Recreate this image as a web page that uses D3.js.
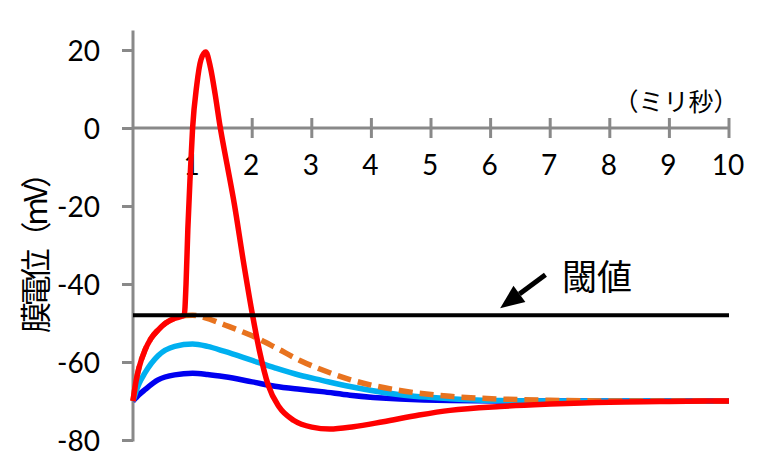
<!DOCTYPE html>
<html>
<head>
<meta charset="utf-8">
<script src="https://cdn.jsdelivr.net/npm/d3@7"></script>
<style>
  html, body { margin: 0; padding: 0; background: #fff; }
  svg { display: block; }
</style>
</head>
<body>
<svg id="chart" width="767" height="473"></svg>
<script>
// ---- data ----
const xTicks = [1, 2, 3, 4, 5, 6, 7, 8, 9, 10];
const yTicks = [-80, -60, -40, -20, 0, 20];
const xLabel = "（ミリ秒）";
const yLabel = "膜電位（mV）";
const thresholdLabel = "閾値";
const threshold = -48;

const blueT = [0, 0.05, 0.1, 0.2, 0.42, 0.7, 1.0, 1.25, 1.54, 2.0, 2.38, 2.8, 3.17, 3.64, 4.48, 5.32, 6.5, 8, 10];
const blueV = [-70, -69.2, -68.4, -67.1, -64.6, -63.3, -62.9, -63.2, -63.8, -65.1, -66.2, -67.0, -67.6, -68.5, -69.5, -69.9, -70, -70, -70];

const lightBlueT = [0, 0.05, 0.1, 0.2, 0.42, 0.7, 1.0, 1.25, 1.54, 2.0, 2.38, 2.8, 3.17, 3.64, 4.48, 5.32, 6.16, 7, 10];
const lightBlueV = [-70, -67.6, -65.6, -62.8, -58.4, -56.0, -55.4, -56.0, -57.3, -59.6, -61.5, -63.4, -64.7, -66.3, -68.4, -69.4, -69.9, -70, -70];

const orangeT = [0, 0.05, 0.1, 0.2, 0.3, 0.42, 0.55, 0.7, 0.88, 1.0, 1.2, 1.54, 2.0, 2.38, 2.8, 3.17, 3.64, 4.48, 5.32, 6.16, 7, 8, 10];
const orangeV = [-70, -65, -61.5, -57, -54, -51.8, -50, -48.8, -48.1, -48, -48.6, -50.5, -53.3, -56.2, -59.6, -62.0, -64.5, -67.3, -68.8, -69.5, -69.8, -70, -70];

const redT = [0, 0.05, 0.1, 0.2, 0.3, 0.42, 0.55, 0.7, 0.86, 0.89, 0.92, 0.96, 1.0, 1.07, 1.14, 1.22, 1.3, 1.38, 1.46, 1.58, 1.7, 1.85, 2.0, 2.12, 2.27, 2.45, 2.7, 3.0, 3.3, 3.7, 4.2, 4.8, 5.32, 6.16, 7, 8, 9, 10];
const redV = [-70, -65, -61.5, -57, -54, -51.8, -50, -48.8, -48, -40, -26, -12, 0, 11, 17.5, 19.5, 15.5, 8.5, 0.5, -9.5, -19.5, -34, -47.5, -57, -66, -71.5, -75, -76.7, -77.2, -76.6, -75.3, -73.6, -72.4, -71.4, -70.8, -70.3, -70.1, -70];

// annotation positions in data units
const arrowTip = [6.16, -46.2];
const arrowTail = [6.92, -37.6];
const thresholdLabelPos = [7.2, -41.6];

// ---- chart ----
const svg = d3.select("#chart");
const x = d3.scaleLinear().domain([0, 10]).range([133, 729]);
const y = d3.scaleLinear().domain([-80, 25]).range([440, 30.5]);

const axisColor = "#898989";
const numFont = "Lato, 'Open Sans', sans-serif";
const cjkFont = "'Noto Sans CJK JP', 'Noto Sans', sans-serif";

// y axis
const yAxis = svg.append("g").attr("transform", `translate(${x(0)},0)`)
  .call(d3.axisLeft(y).tickValues(yTicks).tickSize(11).tickSizeOuter(0).tickFormat(d3.format("d")));
yAxis.select(".domain").remove();
yAxis.selectAll(".tick line").attr("stroke", axisColor).attr("stroke-width", 3);
yAxis.selectAll(".tick text")
  .attr("x", -33).attr("dy", "0.36em")
  .attr("font-family", numFont).attr("font-size", 28).attr("fill", "#000")
  .text(d => d < 0 ? "-" + Math.abs(d) : d);
yAxis.append("line").attr("x1", 0).attr("x2", 0)
  .attr("y1", y(-80) + 1.5).attr("y2", y(25))
  .attr("stroke", axisColor).attr("stroke-width", 3);

// x axis (crossing ticks at y=0)
const xAxis = svg.append("g").attr("transform", `translate(0,${y(0)})`);
xAxis.append("line").attr("x1", x(0)).attr("x2", x(10))
  .attr("stroke", axisColor).attr("stroke-width", 3);
xAxis.selectAll("line.tk").data(xTicks).join("line").attr("class", "tk")
  .attr("x1", d => x(d)).attr("x2", d => x(d))
  .attr("y1", -10).attr("y2", 10)
  .attr("stroke", axisColor).attr("stroke-width", 3);
xAxis.selectAll("text.tl").data(xTicks).join("text").attr("class", "tl")
  .attr("x", d => x(d) - 1).attr("y", 47)
  .attr("text-anchor", "middle")
  .attr("font-family", numFont).attr("font-size", 28).attr("fill", "#000")
  .text(d => d);

// x unit label
svg.append("text")
  .attr("x", x(10) - 53).attr("y", y(0) - 17)
  .attr("text-anchor", "middle")
  .attr("font-family", cjkFont).attr("font-size", 25).attr("fill", "#000")
  .text(xLabel);

// y title
svg.append("text")
  .attr("transform", `translate(33,${245}) rotate(-90)`)
  .attr("text-anchor", "middle").attr("dominant-baseline", "central")
  .attr("font-family", cjkFont).attr("font-size", 31).attr("fill", "#000")
  .attr("textLength", 176).attr("lengthAdjust", "spacing")
  .text(yLabel);

// lines
const line = d3.line().x(d => x(d[0])).y(d => y(d[1])).curve(d3.curveMonotoneX);
const series = [
  { t: blueT, v: blueV, color: "#0000F0", dash: null },
  { t: lightBlueT, v: lightBlueV, color: "#00B0F0", dash: null },
  { t: orangeT, v: orangeV, color: "#E8731F", dash: "14,7" },
  { t: redT, v: redV, color: "#FF0000", dash: null }
];
series.forEach(s => {
  svg.append("path")
    .attr("d", line(s.t.map((t, i) => [t, s.v[i]])))
    .attr("fill", "none").attr("stroke", s.color).attr("stroke-width", 5.5)
    .attr("stroke-linejoin", "round")
    .attr("stroke-dasharray", s.dash);
});

// threshold line
svg.append("line")
  .attr("x1", x(0)).attr("x2", x(10))
  .attr("y1", y(threshold)).attr("y2", y(threshold))
  .attr("stroke", "#000").attr("stroke-width", 4);

// arrow
const tip = [x(arrowTip[0]), y(arrowTip[1])];
const tail = [x(arrowTail[0]), y(arrowTail[1])];
const ang = Math.atan2(tip[1] - tail[1], tip[0] - tail[0]);
const headLen = 24, headHalf = 10;
const bx = tip[0] - headLen * Math.cos(ang), by = tip[1] - headLen * Math.sin(ang);
svg.append("line")
  .attr("x1", tail[0]).attr("y1", tail[1]).attr("x2", bx).attr("y2", by)
  .attr("stroke", "#000").attr("stroke-width", 5);
svg.append("polygon")
  .attr("points", [
    tip,
    [bx + headHalf * Math.sin(ang), by - headHalf * Math.cos(ang)],
    [bx - headHalf * Math.sin(ang), by + headHalf * Math.cos(ang)]
  ].map(p => p.join(",")).join(" "))
  .attr("fill", "#000");

svg.append("text")
  .attr("x", x(thresholdLabelPos[0])).attr("y", y(thresholdLabelPos[1]))
  .attr("font-family", cjkFont).attr("font-size", 35).attr("fill", "#000")
  .text(thresholdLabel);
</script>
</body>
</html>
